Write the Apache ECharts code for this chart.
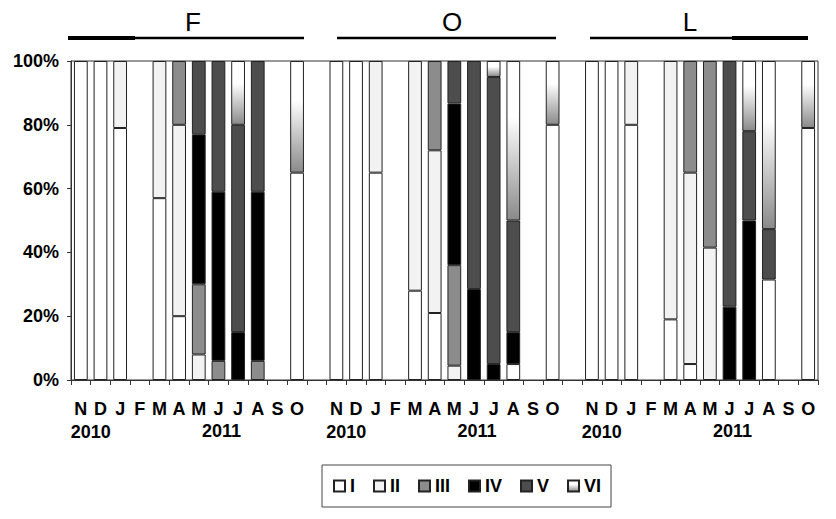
<!DOCTYPE html>
<html>
<head>
<meta charset="utf-8">
<script src="https://cdn.jsdelivr.net/npm/echarts@6/dist/echarts.min.js"></script>
<style>html,body{margin:0;padding:0;background:#fff;}#c{width:836px;height:519px;}</style>
</head>
<body>
<div id="c"></div>
<script>
// ---- data ----
const months = ['N','D','J','F','M','A','M','J','J','A','S','O'];
const panels = ['F','O','L'];
const classes = ['I','II','III','IV','V','VI'];
const years = ['2010','2011'];

const F_I   = [100,100,79,'-',57,20,'-','-','-','-','-',65];
const F_II  = ['-','-',21,'-',43,60,8,'-','-','-','-','-'];
const F_III = ['-','-','-','-','-',20,22,6,'-',6,'-','-'];
const F_IV  = ['-','-','-','-','-','-',47,53,15,53,'-','-'];
const F_V   = ['-','-','-','-','-','-',23,41,65,41,'-','-'];
const F_VI  = ['-','-','-','-','-','-','-','-',20,'-','-',35];

const O_I   = [100,100,65,'-',28,21,'-','-','-',5,'-',80];
const O_II  = ['-','-',35,'-',72,51,4.5,'-','-','-','-','-'];
const O_III = ['-','-','-','-','-',28,31.5,'-','-','-','-','-'];
const O_IV  = ['-','-','-','-','-','-',50.7,28.5,5,10,'-','-'];
const O_V   = ['-','-','-','-','-','-',13.3,71.5,90,35,'-','-'];
const O_VI  = ['-','-','-','-','-','-','-','-',5,50,'-',20];

const L_I   = [100,100,80,'-',19,5,'-','-','-',31.5,'-',79];
const L_II  = ['-','-',20,'-',81,60,41.5,'-','-','-','-','-'];
const L_III = ['-','-','-','-','-',35,58.5,'-','-','-','-','-'];
const L_IV  = ['-','-','-','-','-','-','-',23,50,'-','-','-'];
const L_V   = ['-','-','-','-','-','-','-',77,28,15.8,'-','-'];
const L_VI  = ['-','-','-','-','-','-','-','-',22,52.7,'-',21];

const yTicks = [0,20,40,60,80,100];

// ---- build ----
const panelData = {
  F: [F_I,F_II,F_III,F_IV,F_V,F_VI],
  O: [O_I,O_II,O_III,O_IV,O_V,O_VI],
  L: [L_I,L_II,L_III,L_IV,L_V,L_VI]
};
const cats = [];
panels.forEach((p,pi)=>{ months.forEach(m=>cats.push(m)); if(pi<panels.length-1) cats.push(''); });
function seriesValues(ci){
  const out=[];
  panels.forEach((p,pi)=>{ panelData[p][ci].forEach(v=>out.push(v)); if(pi<panels.length-1) out.push('-'); });
  return out;
}
const FONT = 'Liberation Sans, Arial, sans-serif';
const gradVI = new echarts.graphic.LinearGradient(0,0,0,1,[
  {offset:0,color:'#ffffff'},{offset:0.35,color:'#ffffff'},{offset:1,color:'#8a8a8a'}]);
const colors = ['#ffffff','#f2f2f2','#8c8c8c','#000000','#4d4d4d',gradVI];

const chart = echarts.init(document.getElementById('c'), null, {renderer:'svg'});
chart.setOption({
  animation:false,
  backgroundColor:'#fff',
  grid:{left:71,right:18,top:61,bottom:139,show:true,borderColor:'#333',borderWidth:1,backgroundColor:'transparent'},
  legend:{
    data:classes, left:322, top:465, orient:'horizontal',
    icon:'rect', itemWidth:11, itemHeight:11, itemGap:18,
    padding:[12,10,12,11], borderColor:'#444', borderWidth:1,
    textStyle:{fontFamily:FONT,fontWeight:'bold',fontSize:18,color:'#000'}
  },
  xAxis:{
    type:'category', data:cats,
    axisLine:{lineStyle:{color:'#333',width:1}},
    axisTick:{show:true,length:5,lineStyle:{color:'#333'}},
    axisLabel:{interval:0,margin:20,fontFamily:FONT,fontWeight:'bold',fontSize:18,color:'#000'}
  },
  yAxis:{
    type:'value', min:0, max:100, interval:20,
    axisLine:{show:true,lineStyle:{color:'#333',width:1}},
    axisTick:{show:true,length:4,lineStyle:{color:'#333'}},
    splitLine:{show:false},
    axisLabel:{formatter:'{value}%',margin:12,fontFamily:FONT,fontWeight:'bold',fontSize:18,color:'#000'}
  },
  series: classes.map((c,ci)=>({
    name:c, type:'bar', stack:'s', barWidth:'70%',
    data:seriesValues(ci),
    itemStyle:{color:colors[ci],borderColor:'#222',borderWidth:1}
  }))
});

// ---- decorations: panel titles, lines, year labels ----
const titleX = [193,452,690];
const lineSpans = [[68,304],[337,556],[590,808]];
const thickSpans = [[68,135],null,[732,808]];
const g = [];
panels.forEach((p,pi)=>{
  g.push({type:'text',style:{text:p,x:titleX[pi],y:22,textAlign:'center',textVerticalAlign:'middle',
    font:'26px '+FONT,fill:'#000'}});
  g.push({type:'line',shape:{x1:lineSpans[pi][0],y1:38,x2:lineSpans[pi][1],y2:38},style:{stroke:'#000',lineWidth:2.5}});
  if(thickSpans[pi]) g.push({type:'line',shape:{x1:thickSpans[pi][0],y1:38,x2:thickSpans[pi][1],y2:38},style:{stroke:'#000',lineWidth:4}});
  const off = pi*13;
  const x0 = chart.convertToPixel({xAxisIndex:0}, off);
  const x1 = chart.convertToPixel({xAxisIndex:0}, off+1);
  const x7 = chart.convertToPixel({xAxisIndex:0}, off+7);
  g.push({type:'text',style:{text:years[0],x:(x0+x1)/2,y:432,textAlign:'center',textVerticalAlign:'middle',
    font:'bold 18px '+FONT,fill:'#000'}});
  g.push({type:'text',style:{text:years[1],x:x7+3,y:431,textAlign:'center',textVerticalAlign:'middle',
    font:'bold 18px '+FONT,fill:'#000'}});
});
chart.setOption({graphic:g});
</script>
</body>
</html>
